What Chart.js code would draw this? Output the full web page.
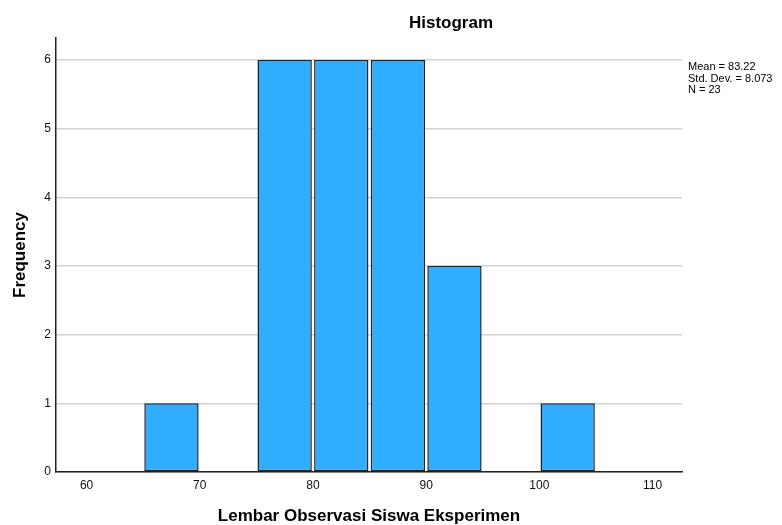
<!DOCTYPE html>
<html>
<head>
<meta charset="utf-8">
<script src="https://cdn.jsdelivr.net/npm/chart.js@4.4.1/dist/chart.umd.min.js"></script>
<style>
  body { margin: 0; background: #fff; }
  #wrap { width: 782px; height: 525px; }
</style>
</head>
<body>
<div id="wrap"><canvas id="hist" width="782" height="525"></canvas></div>
<script>
// bins (centres of 5-wide classes) and counts
const binCenters = [67.5, 77.5, 82.5, 87.5, 92.5, 102.5];
const frequencies = [1, 6, 6, 6, 3, 1];
const statLines = ["Mean = 83.22", "Std. Dev. = 8.073", "N = 23"];
const chartTitle = "Histogram";
const xTitle = "Lembar Observasi Siswa Eksperimen";
const yTitle = "Frequency";

const FONT = "'Liberation Sans', Arial, sans-serif";

// title + stats box, drawn relative to the plot area
const spssText = {
    id: "spssText",
    afterDraw(chart) {
        const { ctx, chartArea } = chart;
        ctx.save();
        ctx.fillStyle = "#000";
        ctx.textBaseline = "middle";
        ctx.font = "bold 17px " + FONT;
        ctx.textAlign = "center";
        ctx.fillText(chartTitle, chartArea.right - 231, 23.5);

        ctx.font = "11px " + FONT;
        ctx.textAlign = "left";
        statLines.forEach((line, i) => {
            ctx.fillText(line, chartArea.right + 6, 67.3 + i * 11.3);
        });
        ctx.restore();
    }
};

const points = binCenters.map((c, i) => ({ x: c, y: frequencies[i] }));

new Chart(document.getElementById("hist"), {
    type: "bar",
    data: {
        datasets: [{
            data: points,
            backgroundColor: "#30adff",
            borderColor: "#222",
            borderWidth: 1.5,
            borderSkipped: false,
            categoryPercentage: 1,
            barPercentage: 0.96
        }]
    },
    options: {
        responsive: false,
        animation: false,
        layout: { padding: { left: 0, right: 100, top: 38, bottom: 0 } },
        plugins: {
            legend: { display: false },
            tooltip: { enabled: false }
        },
        scales: {
            x: {
                type: "linear",
                min: 57.3,
                max: 112.6,
                offset: false,
                grid: { display: false, drawTicks: false, offset: false },
                border: { display: true, color: "#222", width: 1.5 },
                ticks: {
                    stepSize: 10,
                    includeBounds: false,
                    padding: 6,
                    color: "#111",
                    font: { family: FONT, size: 12 }
                },
                title: {
                    display: true,
                    text: xTitle,
                    color: "#000",
                    font: { family: FONT, size: 17, weight: "bold", lineHeight: 1 },
                    padding: { top: 0, bottom: 0.5 }
                },
                afterFit: (s) => { s.height = 53; }
            },
            y: {
                min: 0,
                max: 6.32,
                grid: { color: "#d2d2d2", lineWidth: 1.5, drawTicks: false },
                border: { display: true, color: "#222", width: 1.5 },
                ticks: {
                    stepSize: 1,
                    includeBounds: false,
                    padding: 5,
                    color: "#111",
                    font: { family: FONT, size: 12 }
                },
                title: {
                    display: true,
                    text: yTitle,
                    color: "#000",
                    font: { family: FONT, size: 17, weight: "bold", lineHeight: 1.2 },
                    padding: { top: 10, bottom: 0 }
                },
                afterFit: (s) => { s.width = 56; }
            }
        }
    },
    plugins: [spssText]
});
</script>
</body>
</html>
